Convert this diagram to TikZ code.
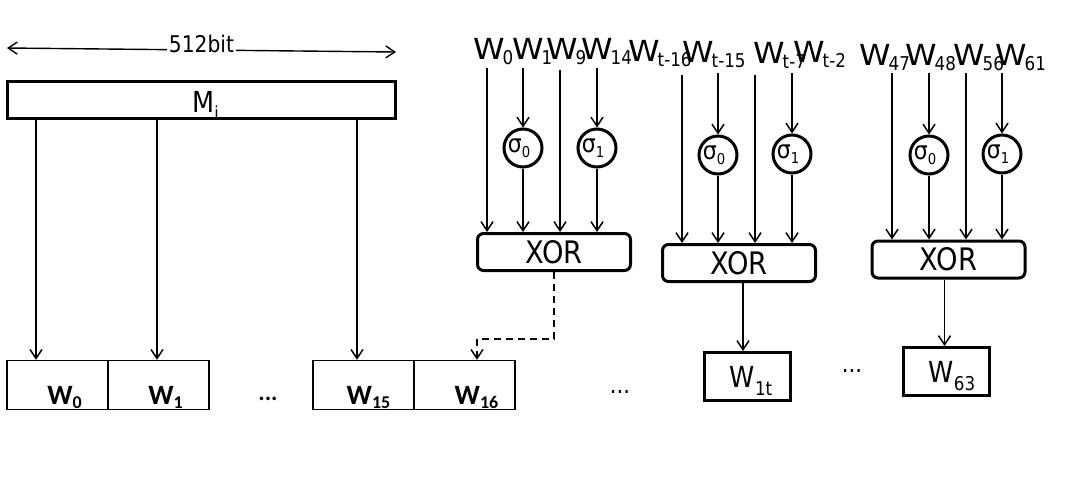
\documentclass[tikz,border=0pt]{standalone}
\usepackage{fontspec}
\setmainfont[FakeStretch=0.88]{DejaVu Sans}
\newfontfamily\wfont[FakeStretch=1.1]{DejaVu Sans}
\newfontfamily\cfont{Carlito}
\usetikzlibrary{arrows.meta}

\newcommand{\topw}[1]{{\wfont\fontsize{29}{30}\selectfont W}\kern-2pt\raisebox{-5pt}{\fontsize{19}{20}\selectfont #1}}
\newcommand{\cellw}[1]{{\cfont\bfseries\fontsize{28}{30}\selectfont W\raisebox{-4pt}{\fontsize{18}{20}\selectfont #1}}}
\newcommand{\outw}[1]{{\fontsize{29}{30}\selectfont W\raisebox{-8pt}{\fontsize{19}{20}\selectfont #1}}}
\newcommand{\sgm}[1]{{\fontsize{25}{26}\selectfont σ\raisebox{-5pt}{\fontsize{15}{16}\selectfont #1}}}

\begin{document}
\begin{tikzpicture}[x=1pt,y=-1pt,>={Straight Barb[length=9pt,width=12pt]},every node/.style={inner sep=0pt},
wire/.style={->,line width=1.5pt},
xorbox/.style={draw,line width=3pt,rounded corners=6pt,minimum width=153pt,minimum height=37pt,font=\fontsize{31}{32}\selectfont},
sbox/.style={draw,circle,line width=3pt,minimum size=38pt},
cell/.style={draw,line width=1.4pt,minimum width=101pt,minimum height=49pt,text height=38pt,text depth=0pt},
wbox/.style={draw,line width=3pt,minimum width=86pt,minimum height=48pt,text height=21pt,text depth=0pt}]
\useasboundingbox (0,0) rectangle (1072,483);
% message block
\coordinate (bl) at (7,48);
\coordinate (br) at (396,52);
\draw[<->,line width=1.4pt] (bl) -- node[fill=white,inner xsep=2pt,yshift=6pt,font=\fontsize{23}{24}\selectfont] (bits) {512bit} (br);
\node[draw,line width=3pt,minimum width=388pt,minimum height=37pt,text height=26pt,text depth=0pt,font=\fontsize{29}{30}\selectfont] (mi) at (201.5,99.5) {\hspace*{8pt}M\raisebox{-7pt}{\fontsize{18}{18}\selectfont i}};
\node[cell] (m0) at (57.5,385) {\hspace*{14pt}\cellw{0}};
\node[cell] (m1) at (158.5,385) {\hspace*{14pt}\cellw{1}};
\node[cell] (m15) at (363.5,385) {\hspace*{10pt}\cellw{15}};
\node[cell] (m16) at (464.5,385) {\hspace*{24pt}\cellw{16}};
\node[font=\cfont\bfseries\fontsize{24}{26}\selectfont] (d1) at (268,399) {...};
\coordinate (p0) at ([xshift=-21.5pt]m0.north);
\coordinate (p1) at ([xshift=-1.5pt]m1.north);
\coordinate (p15) at ([xshift=-6.5pt]m15.north);
\coordinate (p16) at ([xshift=12.5pt]m16.north);
\draw[wire] (mi.south -| p0) -- (p0);
\draw[wire] (mi.south -| p1) -- (p1);
\draw[wire] (mi.south -| p15) -- (p15);
% round 16
\node[anchor=base west] (la0) at (473,59) {\topw{0}};
\node[anchor=base west] (la1) at (512,59) {\topw{1}};
\node[anchor=base west] (la2) at (546,59) {\topw{9}};
\node[anchor=base west] (la3) at (581,59) {\topw{14}};
\coordinate (ta0) at (487,68);
\coordinate (ta1) at (523,68);
\coordinate (ta2) at (560,70);
\coordinate (ta3) at (597,68);
\node[sbox] (sa0) at (523,148) {\sgm{0}\hspace*{8pt}};
\node[sbox] (sa1) at (597,148) {\sgm{1}\hspace*{8pt}};
\node[xorbox] (xa) at (554,252) {XOR};
\draw[wire] (ta0) -- (ta0 |- xa.north);
\draw[wire] (ta1) -- (sa0);
\draw[wire] (sa0) -- (sa0 |- xa.north);
\draw[wire] (ta2) -- (ta2 |- xa.north);
\draw[wire] (ta3) -- (sa1);
\draw[wire] (sa1) -- (sa1 |- xa.north);
\draw[wire,dash pattern=on 7pt off 5pt] (xa.south) |- ([yshift=21pt]p16) -- (p16);
% round t
\node[anchor=base west] (lb0) at (628,61) {\topw{t-16}};
\node[anchor=base west] (lb1) at (682,62) {\topw{t-15}};
\node[anchor=base west] (lb2) at (753,63) {\topw{t-7}};
\node[anchor=base west] (lb3) at (793,62) {\topw{t-2}};
\coordinate (tb0) at (682,75);
\coordinate (tb1) at (718,73);
\coordinate (tb2) at (755,75);
\coordinate (tb3) at (792,73);
\node[sbox] (sb0) at (718,155) {\sgm{0}\hspace*{8pt}};
\node[sbox] (sb1) at (792,154) {\sgm{1}\hspace*{8pt}};
\node[xorbox] (xb) at (739,263) {XOR};
\draw[wire] (tb0) -- (tb0 |- xb.north);
\draw[wire] (tb1) -- (sb0);
\draw[wire] (sb0) -- (sb0 |- xb.north);
\draw[wire] (tb2) -- (tb2 |- xb.north);
\draw[wire] (tb3) -- (sb1);
\draw[wire] (sb1) -- (sb1 |- xb.north);
\node[wbox] (ob) at (747.5,376.5) {\hspace*{7pt}\outw{1t}};
\draw[wire] ([xshift=4pt]xb.south) -- ([xshift=4pt]xb.south |- ob.north);
\node[font=\fontsize{24}{26}\selectfont] (d2) at (620,392) {...};
% round 63
\node[anchor=base west] (lc0) at (859,65) {\topw{47}};
\node[anchor=base west] (lc1) at (905,65) {\topw{48}};
\node[anchor=base west] (lc2) at (953,65) {\topw{56}};
\node[anchor=base west] (lc3) at (995,65) {\topw{61}};
\coordinate (tc0) at (892,73);
\coordinate (tc1) at (929,73);
\coordinate (tc2) at (966,73);
\coordinate (tc3) at (1002,73);
\node[sbox] (sc0) at (929,155) {\sgm{0}\hspace*{8pt}};
\node[sbox] (sc1) at (1002,154) {\sgm{1}\hspace*{8pt}};
\node[xorbox] (xc) at (948.5,259.5) {XOR};
\draw[wire] (tc0) -- (tc0 |- xc.north);
\draw[wire] (tc1) -- (sc0);
\draw[wire] (sc0) -- (sc0 |- xc.north);
\draw[wire] (tc2) -- (tc2 |- xc.north);
\draw[wire] (tc3) -- (sc1);
\draw[wire] (sc1) -- (sc1 |- xc.north);
\node[wbox] (oc) at (946,371.5) {\hspace*{12pt}\outw{63}};
\draw[wire] ([xshift=-4pt]xc.south) -- ([xshift=-4pt]xc.south |- oc.north);
\node[font=\fontsize{24}{26}\selectfont] (d3) at (852,371) {...};
\end{tikzpicture}
\end{document}
